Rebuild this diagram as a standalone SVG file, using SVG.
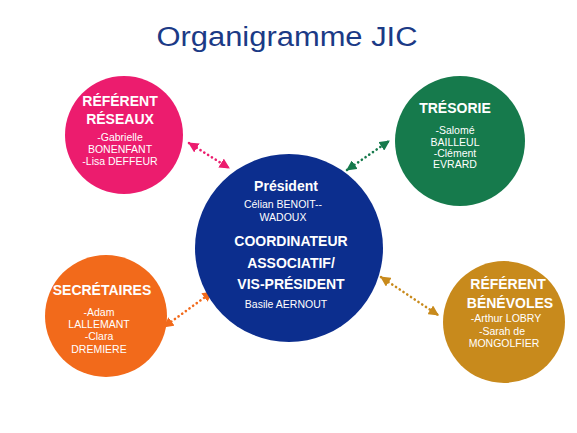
<svg xmlns="http://www.w3.org/2000/svg" width="577" height="433" viewBox="0 0 577 433">
<style>
text{font-family:"Liberation Sans",Arial,sans-serif;fill:#fff;text-anchor:middle}
.h{font-size:14px;font-weight:bold}
.n{font-size:10.5px}
.title{font-size:27px;fill:#1b3a86}
.c{fill:none;stroke-width:2.6;stroke-dasharray:0.1 4.4;stroke-linecap:round}
</style>
<defs>
<marker id="mp" viewBox="0 0 10 10" refX="9" refY="5" markerWidth="4" markerHeight="4" orient="auto-start-reverse" markerUnits="strokeWidth"><path d="M0,0L10,5L0,10z" fill="#ec1c6e"/></marker>
<marker id="mg" viewBox="0 0 10 10" refX="9" refY="5" markerWidth="4" markerHeight="4" orient="auto-start-reverse" markerUnits="strokeWidth"><path d="M0,0L10,5L0,10z" fill="#167a4c"/></marker>
<marker id="mo" viewBox="0 0 10 10" refX="9" refY="5" markerWidth="4" markerHeight="4" orient="auto-start-reverse" markerUnits="strokeWidth"><path d="M0,0L10,5L0,10z" fill="#f26a1b"/></marker>
<marker id="my" viewBox="0 0 10 10" refX="9" refY="5" markerWidth="4" markerHeight="4" orient="auto-start-reverse" markerUnits="strokeWidth"><path d="M0,0L10,5L0,10z" fill="#c88a1c"/></marker>
</defs>
<rect width="577" height="433" fill="#fff"/>
<text class="title" x="287" y="46" textLength="261" lengthAdjust="spacingAndGlyphs">Organigramme JIC</text>
<g id="connectors">
<line class="c" x1="189" y1="143" x2="229" y2="168" stroke="#ec1c6e" marker-start="url(#mp)" marker-end="url(#mp)"/>
<line class="c" x1="347" y1="170" x2="389" y2="141" stroke="#167a4c" marker-start="url(#mg)" marker-end="url(#mg)"/>
<line class="c" x1="164" y1="327" x2="212" y2="292" stroke="#f26a1b" marker-start="url(#mo)" marker-end="url(#mo)"/>
<line class="c" x1="381" y1="277" x2="438" y2="315" stroke="#c88a1c" marker-start="url(#my)" marker-end="url(#my)"/>
</g>
<g id="referent-reseaux">
<circle cx="124" cy="135" r="59" fill="#ec1c6e"/>
<text class="h" x="120" y="106">RÉFÉRENT</text>
<text class="h" x="120" y="124">RÉSEAUX</text>
<text class="n" x="120" y="141">-Gabrielle</text>
<text class="n" x="120" y="153">BONENFANT</text>
<text class="n" x="120" y="165">-Lisa DEFFEUR</text>
</g>
<g id="tresorie">
<circle cx="460" cy="141" r="65" fill="#167a4c"/>
<text class="h" x="455" y="113">TRÉSORIE</text>
<text class="n" x="455" y="134">-Salomé</text>
<text class="n" x="455" y="146">BAILLEUL</text>
<text class="n" x="455" y="157">-Clément</text>
<text class="n" x="455" y="168">EVRARD</text>
</g>
<g id="president">
<circle cx="289" cy="248" r="94" fill="#0c2e8e"/>
<text class="h" x="286" y="191">Président</text>
<text class="n" x="283" y="208">Célian BENOIT--</text>
<text class="n" x="283" y="221">WADOUX</text>
<text class="h" x="291" y="246">COORDINATEUR</text>
<text class="h" x="291" y="268">ASSOCIATIF/</text>
<text class="h" x="291" y="289">VIS-PRÉSIDENT</text>
<text class="n" x="286" y="308">Basile AERNOUT</text>
</g>
<g id="secretaires">
<circle cx="106" cy="316" r="61" fill="#f26a1b"/>
<text class="h" x="102" y="295">SECRÉTAIRES</text>
<text class="n" x="99" y="316">-Adam</text>
<text class="n" x="99" y="328">LALLEMANT</text>
<text class="n" x="99" y="340">-Clara</text>
<text class="n" x="99" y="353">DREMIERE</text>
</g>
<g id="referent-benevoles">
<circle cx="504" cy="322" r="61" fill="#c88a1c"/>
<text class="h" x="508" y="289">RÉFÉRENT</text>
<text class="h" x="510" y="308">BÉNÉVOLES</text>
<text class="n" x="506" y="322">-Arthur LOBRY</text>
<text class="n" x="502" y="335">-Sarah de</text>
<text class="n" x="504" y="347">MONGOLFIER</text>
</g>
</svg>
